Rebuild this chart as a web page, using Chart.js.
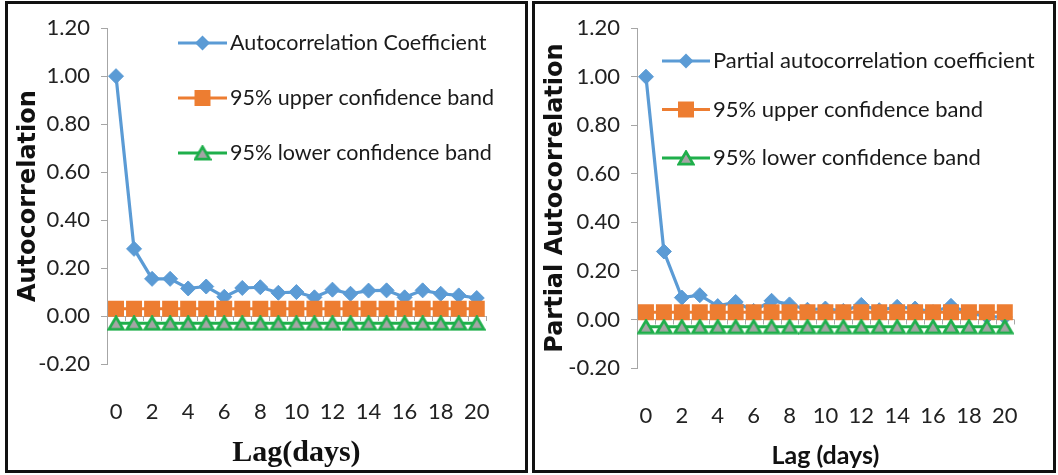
<!DOCTYPE html>
<html>
<head>
<meta charset="utf-8">
<script src="https://cdn.jsdelivr.net/npm/chart.js@4.4.0/dist/chart.umd.min.js"></script>
<style>
  html, body { margin: 0; padding: 0; background: #fff; }
  body { width: 1058px; height: 475px; position: relative; overflow: hidden; }
  .panel { position: absolute; top: 1px; height: 466px; border: 3px solid #111; background: #fff; }
  #p1 { left: 5px; width: 517px; }
  #p2 { left: 532px; width: 518px; }
  canvas { display: block; }
</style>
</head>
<body>
<div class="panel" id="p1"><canvas id="acf" width="517" height="466"></canvas></div>
<div class="panel" id="p2"><canvas id="pacf" width="518" height="466"></canvas></div>
<script>
// Lags in days
const lags = ['0','1','2','3','4','5','6','7','8','9','10','11','12','13','14','15','16','17','18','19','20'];

// Autocorrelation coefficients by lag
const acfValues = [1.00, 0.28, 0.155, 0.155, 0.115, 0.123, 0.080, 0.117, 0.120, 0.097, 0.100,
                   0.078, 0.110, 0.093, 0.106, 0.107, 0.078, 0.107, 0.093, 0.086, 0.075];

// Partial autocorrelation coefficients by lag
const pacfValues = [1.00, 0.28, 0.090, 0.100, 0.055, 0.072, 0.035, 0.077, 0.062, 0.040, 0.045,
                    0.035, 0.060, 0.038, 0.052, 0.045, 0.030, 0.056, 0.028, 0.012, 0.010];

// 95% confidence bands
const upperBand = [0.03, 0.03, 0.03, 0.03, 0.03, 0.03, 0.03, 0.03, 0.03, 0.03, 0.03,
                   0.03, 0.03, 0.03, 0.03, 0.03, 0.03, 0.03, 0.03, 0.03, 0.03];
const lowerBand = [-0.03, -0.03, -0.03, -0.03, -0.03, -0.03, -0.03, -0.03, -0.03, -0.03, -0.03,
                   -0.03, -0.03, -0.03, -0.03, -0.03, -0.03, -0.03, -0.03, -0.03, -0.03];

// Y-axis tick range
const yMin = -0.2, yMax = 1.2, yStep = 0.2;

const BLUE = '#5B9BD5', ORANGE = '#ED7D31', GREEN = '#1FAF4B', GREY_FILL = '#A5A5A5', AXIS = '#A6A6A6';

// Triangle marker: grey fill with green outline, centred on its bounding box
function triangleMarker() {
  const c = document.createElement('canvas');
  c.width = 18; c.height = 16;
  const g = c.getContext('2d');
  g.beginPath();
  g.moveTo(9, 1.8); g.lineTo(16.3, 14.2); g.lineTo(1.7, 14.2); g.closePath();
  g.fillStyle = GREY_FILL; g.fill();
  g.lineWidth = 2.7; g.strokeStyle = GREEN; g.lineJoin = 'miter'; g.stroke();
  return c;
}
const triImg = triangleMarker();

function drawKeyMarker(ctx, ds, x, y) {
  ctx.save();
  if (ds.pointStyle === 'rectRot') {
    const r = ds.pointRadius;
    ctx.beginPath();
    ctx.moveTo(x, y - r); ctx.lineTo(x + r, y); ctx.lineTo(x, y + r); ctx.lineTo(x - r, y); ctx.closePath();
    ctx.fillStyle = ds.pointBackgroundColor; ctx.fill();
  } else if (ds.pointStyle === 'rect') {
    const s = ds.pointRadius * Math.SQRT1_2;
    ctx.fillStyle = ds.pointBackgroundColor;
    ctx.fillRect(x - s, y - s, 2 * s, 2 * s);
  } else {
    ctx.drawImage(ds.pointStyle, x - ds.pointStyle.width / 2, y - ds.pointStyle.height / 2);
  }
  ctx.restore();
}

// Series key drawn inside the plot: line sample, marker, label
const seriesKey = {
  id: 'seriesKey',
  afterDraw(chart, args, o) {
    const ctx = chart.ctx;
    ctx.save();
    chart.data.datasets.forEach((ds, i) => {
      const y = o.top + i * o.gap;
      ctx.strokeStyle = ds.borderColor;
      ctx.lineWidth = ds.borderWidth;
      ctx.beginPath();
      ctx.moveTo(o.left, y);
      ctx.lineTo(o.left + o.lineLen, y);
      ctx.stroke();
      drawKeyMarker(ctx, ds, o.left + o.lineLen / 2, y);
      ctx.fillStyle = '#1a1a1a';
      ctx.font = o.font;
      ctx.textAlign = 'left';
      ctx.textBaseline = 'middle';
      ctx.fillText(ds.label, o.left + o.lineLen + o.textGap, y);
    });
    ctx.restore();
  }
};

// Small tick marks on the zero line at category boundaries
const zeroTicks = {
  id: 'zeroTicks',
  beforeDatasetsDraw(chart) {
    const xs = chart.scales.x, ys = chart.scales.y, ctx = chart.ctx;
    const y0 = ys.getPixelForValue(0);
    const n = chart.data.labels.length;
    ctx.save();
    ctx.strokeStyle = AXIS;
    ctx.lineWidth = 1;
    ctx.beginPath();
    for (let i = 0; i <= n; i++) {
      let x;
      if (i === 0) x = xs.left;
      else if (i === n) x = xs.right;
      else x = (xs.getPixelForTick(i - 1) + xs.getPixelForTick(i)) / 2;
      x = Math.round(x) + 0.5;
      ctx.moveTo(x, y0);
      ctx.lineTo(x, y0 + 5);
    }
    ctx.stroke();
    ctx.restore();
  }
};

function makeChart(id, cfg) {
  const datasets = [
    {
      label: cfg.mainLabel, data: cfg.values, order: 3,
      borderColor: BLUE, borderWidth: 3.2, pointStyle: 'rectRot', pointRadius: 7.5,
      pointBackgroundColor: BLUE, pointBorderColor: BLUE, pointBorderWidth: 1
    },
    {
      label: '95% upper confidence band', data: upperBand, order: 2,
      borderColor: ORANGE, borderWidth: 3, pointStyle: 'rect', pointRadius: 11.3,
      pointBackgroundColor: ORANGE, pointBorderColor: ORANGE, pointBorderWidth: 0
    },
    {
      label: '95% lower confidence band', data: lowerBand, order: 1,
      borderColor: GREEN, borderWidth: 3, pointStyle: triImg, pointRadius: 8,
      pointBackgroundColor: GREY_FILL, pointBorderColor: GREEN
    }
  ];
  return new Chart(document.getElementById(id), {
    type: 'line',
    data: { labels: lags, datasets },
    plugins: [zeroTicks, seriesKey],
    options: {
      responsive: false,
      animation: false,
      devicePixelRatio: 1,
      layout: { padding: { top: 19, right: cfg.padRight, left: 0, bottom: 0 } },
      elements: { line: { tension: 0 } },
      plugins: {
        legend: { display: false },
        tooltip: { enabled: false },
        seriesKey: cfg.key
      },
      scales: {
        x: {
          type: 'category',
          offset: true,
          grid: { display: false, drawTicks: false },
          border: { display: false },
          afterFit: s => { s.height = cfg.xHeight; },
          ticks: {
            autoSkip: false, maxRotation: 0, minRotation: 0, padding: cfg.xTickPad,
            color: '#222', font: { family: 'Lato', size: 22 },
            callback: (v, i) => (i % 2 === 0 ? lags[i] : '')
          },
          title: {
            display: true, text: cfg.xTitle, color: '#111',
            font: cfg.xTitleFont, padding: { top: 0, bottom: 0 }
          }
        },
        y: {
          min: yMin, max: yMax,
          afterFit: s => { s.width = cfg.yWidth; },
          border: { display: true, color: AXIS, width: 1 },
          grid: {
            drawTicks: true, tickLength: 6, tickColor: AXIS, lineWidth: 1,
            color: c => (Math.abs(c.tick.value) < 1e-9 ? AXIS : 'rgba(0,0,0,0)')
          },
          ticks: {
            stepSize: yStep, padding: 11, color: '#222',
            font: { family: 'Lato', size: 22 },
            callback: v => (Math.abs(v) < 1e-9 ? 0 : Number(v)).toFixed(2)
          },
          title: {
            display: true, text: cfg.yTitle, color: '#111',
            font: { family: 'DejaVu Sans', size: 24, weight: 'bold' },
            padding: { top: 6, bottom: 0 }
          }
        }
      }
    }
  });
}

makeChart('acf', {
  mainLabel: 'Autocorrelation Coefficient',
  values: acfValues,
  padRight: 20, xHeight: 106, yWidth: 99, xTickPad: 35,
  xTitle: 'Lag(days)',
  xTitleFont: { family: 'Liberation Serif', size: 30, weight: 'bold', lineHeight: 1.1 },
  yTitle: 'Autocorrelation',
  key: { left: 170, top: 39, gap: 55, lineLen: 49, textGap: 3, font: '21.5px Lato' }
});

makeChart('pacf', {
  mainLabel: 'Partial autocorrelation coefficient',
  values: pacfValues,
  padRight: 18, xHeight: 102, yWidth: 102, xTickPad: 35,
  xTitle: 'Lag (days)',
  xTitleFont: { family: 'Lato', size: 25, weight: 'bold', lineHeight: 1.1 },
  yTitle: 'Partial Autocorrelation',
  key: { left: 127, top: 57, gap: 48.5, lineLen: 48, textGap: 3, font: '22px Lato' }
});
</script>
</body>
</html>
